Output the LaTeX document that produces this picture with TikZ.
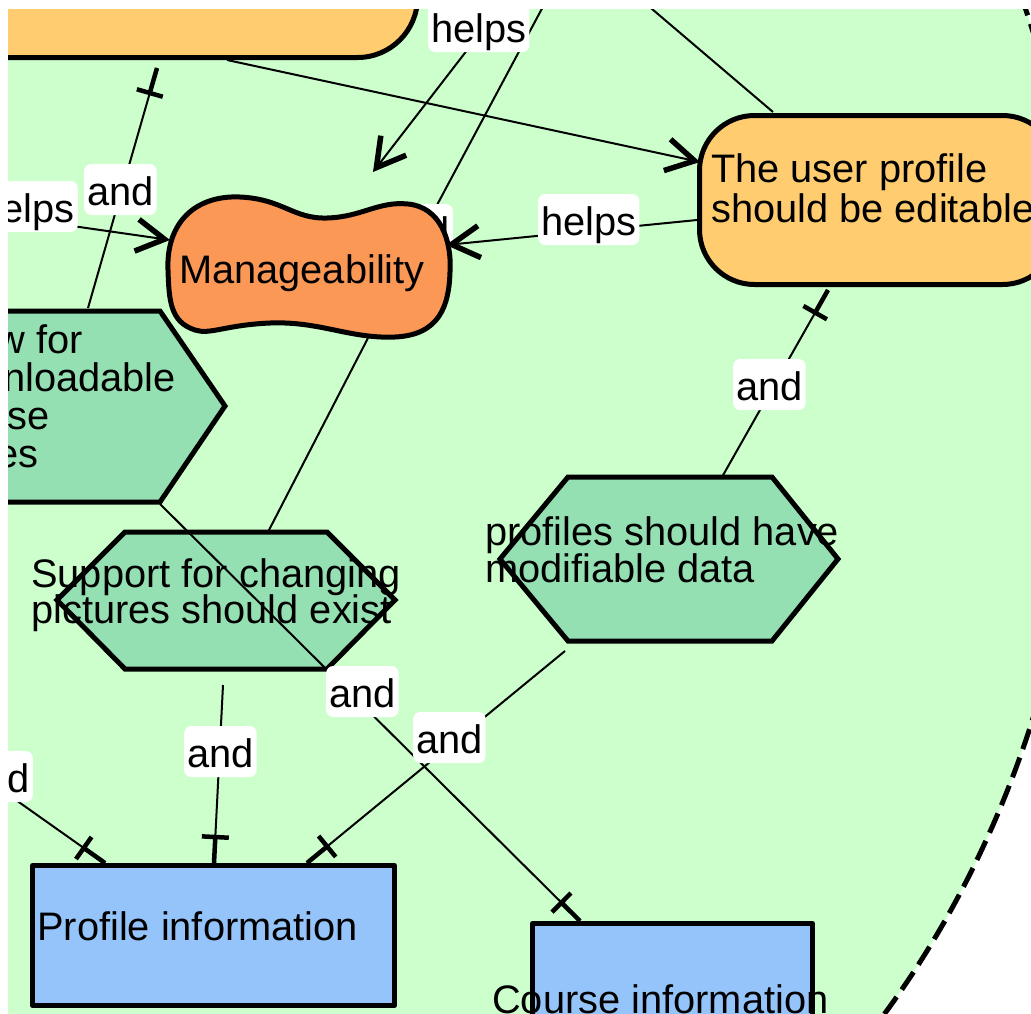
\documentclass[tikz,border=0pt]{standalone}
\usepackage{fontspec}
\setmainfont{Liberation Sans}
\usetikzlibrary{arrows.meta,decorations.markings}

\definecolor{actorbg}{HTML}{CCFFCC}
\definecolor{goalfill}{HTML}{FFCC70}
\definecolor{softfill}{HTML}{FC9856}
\definecolor{taskfill}{HTML}{95E0B2}
\definecolor{resfill}{HTML}{94C4FA}

% stacked lines with a fixed baseline distance; baseline = first line
\newcommand\stacklines[2]{\vtop{\baselineskip=#1\lineskiplimit=-1000pt\relax #2}}

\tikzset{
  elem/.style={draw=black, line width=5pt, line join=round},
  goalbox/.style={elem, fill=goalfill, rounded corners=55pt, inner sep=0pt},
  taskhex/.style={elem, fill=taskfill, line join=miter},
  resbox/.style={elem, fill=resfill, inner sep=0pt},
  link/.style={draw=black, line width=2pt},
  helpslink/.style={link, -{Straight Barb[length=28pt,width=32pt,line width=5.5pt]}},
  andlink/.style={link, postaction={decorate, decoration={markings,
      mark=at position -26pt with {\draw[line width=4.5pt] (0,-13.5) -- (0,13.5) (0,0) -- (26,0);}}}},
  lbl/.style={fill=white, rounded corners=7pt, inner xsep=3pt, inner ysep=0pt,
      text height=41pt, text depth=10pt, anchor=base west},
  txt/.style={inner sep=0pt, anchor=base west},
}

\begin{document}
\begin{tikzpicture}[x=1pt, y=-1pt, font=\fontsize{39.8}{40}\selectfont]
\useasboundingbox (0,0) rectangle (1031,1013);
\clip (8,9) rectangle (1031,1013);

% actor boundary
\fill[actorbg] (300,375) ellipse [x radius=785, y radius=957];
\draw[line width=5pt, dash pattern=on 21pt off 9pt] (300,375) ellipse [x radius=785, y radius=957];

% link running into the hidden label behind the softgoal
\coordinate (offE) at (600,-100);
\coordinate (mgLbl) at (437,205);
\draw[link] (offE) -- (mgLbl);
\node[lbl, anchor=base east] (lblHidden) at (453,245) {and};

% goals
\node[goalbox, rounded corners=60pt, anchor=south east, minimum width=700pt, minimum height=300pt] (tlg) at (420,60) {};
\node[goalbox, anchor=north west, minimum width=358pt, minimum height=169pt] (upg) at (697,113) {};

% softgoal
\draw[elem, fill=softfill] (168,270) .. controls (166,222) and (196,195) .. (240,197)
  .. controls (283,199) and (293,219) .. (327,218)
  .. controls (362,217) and (378,201) .. (408,204)
  .. controls (440,207) and (452,240) .. (450,272)
  .. controls (449,305) and (440,335) .. (395,337)
  .. controls (350,339) and (320,321) .. (270,323)
  .. controls (225,325) and (210,335) .. (195,330)
  .. controls (170,322) and (169,300) .. (168,270) -- cycle;

% tasks
\draw[taskhex] (-200,311) -- (160,311) -- (225,406) -- (160,502) -- (-200,502) -- cycle;
\draw[taskhex] (125,532) -- (327,532) -- (395,600) -- (327,669) -- (125,669) -- (57,600) -- cycle;
\draw[taskhex] (568,477) -- (772,477) -- (838,559) -- (772,641) -- (568,641) -- (500,559) -- cycle;

% resources
\node[resbox, anchor=north west, minimum width=362pt, minimum height=140pt] (pinf) at (30,863) {};
\node[resbox, anchor=north west, minimum width=280pt, minimum height=200pt] (cinf) at (530,921) {};

% connector end points
\coordinate (phTop) at (722,477);  \coordinate (upB) at (828,290);
\coordinate (lhTop) at (88,308);   \coordinate (tlgB1) at (157,68);
\coordinate (offHL) at (-60,207);  \coordinate (mgL) at (170,240);
\coordinate (offHT) at (583,-100); \coordinate (mgAbove) at (373,172);
\coordinate (upL1) at (697,220);   \coordinate (mgR) at (446,245);
\coordinate (tlgB2) at (227,60);   \coordinate (upL2) at (700,162);
\coordinate (offH) at (524,-100);  \coordinate (upT) at (773,112);
\coordinate (mgB) at (368,338);    \coordinate (shTop) at (268,532);
\coordinate (lhBR) at (160,504);   \coordinate (ciT) at (580,921);
\coordinate (shBot) at (223,685);  \coordinate (piT1) at (214,863);
\coordinate (phBot) at (565,651);  \coordinate (piT2) at (307,863);
\coordinate (offD) at (-100,718);  \coordinate (piT0) at (105,863);

% connectors
\draw[andlink] (phTop) -- (upB);
\draw[andlink] (lhTop) -- (tlgB1);
\draw[helpslink] (offHL) -- (mgL);
\draw[helpslink] (offHT) -- (mgAbove);
\draw[helpslink] (upL1) -- (mgR);
\draw[helpslink] (tlgB2) -- (upL2);
\draw[link] (offH) -- (upT);
\draw[link] (mgB) -- (shTop);
\draw[andlink] (lhBR) -- (ciT);
\draw[andlink] (shBot) -- (piT1);
\draw[andlink] (phBot) -- (piT2);
\draw[andlink] (offD) -- (piT0);

% connector labels
\node[lbl] (lHelpsTop) at (428,42) {helps};
\node[lbl] (lAndTL) at (84,205) {and};
\node[lbl, anchor=base east] (lHelpsL) at (78,222) {helps};
\node[lbl] (lHelpsMid) at (538,235) {helps};
\node[lbl] (lAndUP) at (733,400) {and};
\node[lbl] (lAndSP) at (184,767) {and};
\node[lbl] (lAndCI) at (326,707) {and};
\node[lbl] (lAndPH) at (413,753) {and};
\node[lbl, anchor=base east] (lAndL) at (33,792) {and};

% element texts
\node[txt] (mgt) at (179,283) {Manageability};
\node[txt] (upt) at (711,182) {\stacklines{40pt}{\hbox{The user profile}\hbox{should be editable}}};
\node[txt] (lht) at (-70,353) {\stacklines{38.3pt}{\hbox{Allow for}\hbox{downloadable}\hbox{course}\hbox{pages}}};
\node[txt] (sht) at (31,587) {\stacklines{36pt}{\hbox{Support for changing}\hbox{pictures should exist}}};
\node[txt] (pht) at (485,545) {\stacklines{37pt}{\hbox{profiles should have}\hbox{modifiable data}}};
\node[txt] (pit) at (37,940) {Profile information};
\node[txt] (cit) at (492,1013) {Course information};
\end{tikzpicture}
\end{document}
